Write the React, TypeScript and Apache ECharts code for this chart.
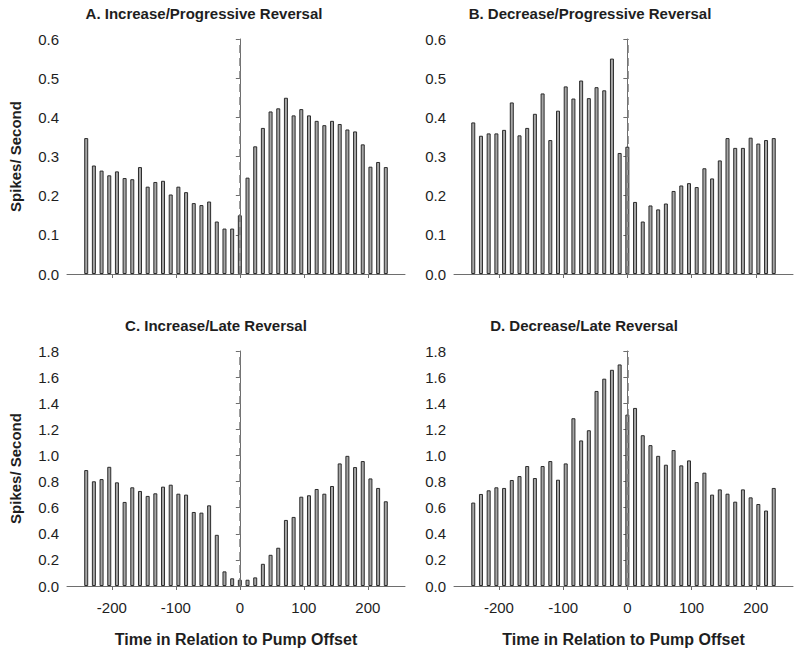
import React, { useEffect, useRef } from "react";
import * as echarts from "echarts";

// Bin centres (time relative to pump offset)
const times = [
  -240, -228, -216, -204, -192, -180, -168, -156, -144, -132, -120, -108, -96, -84, -72, -60, -48, -36, -24, -12,
  0, 12, 24, 36, 48, 60, 72, 84, 96, 108, 120, 132, 144, 156, 168, 180, 192, 204, 216, 228,
];

const panelA = [
  0.347, 0.277, 0.264, 0.252, 0.262, 0.245, 0.242, 0.273, 0.223, 0.235, 0.238, 0.203, 0.223, 0.209, 0.181, 0.176,
  0.185, 0.134, 0.116, 0.116, 0.15, 0.246, 0.326, 0.373, 0.415, 0.423, 0.45, 0.405, 0.421, 0.405, 0.391, 0.38,
  0.391, 0.383, 0.369, 0.364, 0.331, 0.274, 0.286, 0.273,
];
const panelB = [
  0.387, 0.353, 0.359, 0.359, 0.368, 0.438, 0.354, 0.373, 0.409, 0.461, 0.342, 0.417, 0.479, 0.448, 0.494, 0.449,
  0.477, 0.469, 0.55, 0.309, 0.325, 0.184, 0.134, 0.175, 0.165, 0.18, 0.212, 0.226, 0.232, 0.222, 0.27, 0.244,
  0.29, 0.347, 0.322, 0.322, 0.348, 0.333, 0.342, 0.347,
];
const panelC = [
  0.888, 0.802, 0.819, 0.913, 0.794, 0.644, 0.756, 0.728, 0.69, 0.71, 0.761, 0.776, 0.707, 0.7, 0.567, 0.562,
  0.618, 0.392, 0.112, 0.059, 0.048, 0.048, 0.066, 0.17, 0.239, 0.293, 0.506, 0.529, 0.684, 0.695, 0.743, 0.707,
  0.766, 0.939, 0.997, 0.911, 0.957, 0.824, 0.751, 0.649,
];
const panelD = [
  0.639, 0.705, 0.733, 0.756, 0.751, 0.812, 0.842, 0.919, 0.827, 0.919, 0.957, 0.814, 0.939, 1.285, 1.115, 1.193,
  1.494, 1.588, 1.656, 1.697, 1.313, 1.364, 1.155, 1.079, 0.997, 0.929, 1.041, 0.924, 0.962, 0.796, 0.868, 0.7,
  0.74, 0.707, 0.646, 0.74, 0.679, 0.628, 0.578, 0.751,
];

const titles = [
  "A. Increase/Progressive Reversal",
  "B. Decrease/Progressive Reversal",
  "C. Increase/Late Reversal",
  "D. Decrease/Late Reversal",
];
const xTickValues = [-200, -100, 0, 100, 200];
const yLabel = "Spikes/ Second";
const xLabel = "Time in Relation to Pump Offset";

const FONT = "'Liberation Sans', Arial, sans-serif";
const AXIS_COLOR = "#6e6e6e";
const TEXT_COLOR = "#1e1e1e";

export default function App() {
  const ref = useRef<HTMLDivElement>(null);

  useEffect(() => {
    document.body.style.margin = "0";
    if (!ref.current) return;
    const chart = echarts.init(ref.current, null, { renderer: "svg" });

    const grids = [
      { left: 67, top: 39, width: 338, height: 235 },
      { left: 454, top: 39, width: 339, height: 235 },
      { left: 67, top: 351, width: 338, height: 235 },
      { left: 454, top: 351, width: 339, height: 235 },
    ];
    const datasets = [panelA, panelB, panelC, panelD];
    const yMax = [0.6, 0.6, 1.8, 1.8];
    const yInt = [0.1, 0.1, 0.2, 0.2];

    const xAxes = grids.map((_, i) => ({
      type: "value",
      gridIndex: i,
      min: -270,
      max: 258,
      splitLine: { show: false },
      axisLine: { show: true, lineStyle: { color: AXIS_COLOR, width: 1 } },
      axisTick: { show: true, length: 4, lineStyle: { color: AXIS_COLOR }, customValues: xTickValues },
      axisLabel: {
        show: i >= 2,
        customValues: xTickValues,
        color: TEXT_COLOR,
        fontFamily: FONT,
        fontSize: 15,
        margin: 14,
      },
      name: i >= 2 ? xLabel : "",
      nameLocation: "middle",
      nameGap: 45,
      nameTextStyle: { fontFamily: FONT, fontWeight: "bold", fontSize: 16, color: TEXT_COLOR },
    }));

    const yAxes = grids.map((_, i) => ({
      type: "value",
      gridIndex: i,
      min: 0,
      max: yMax[i],
      interval: yInt[i],
      splitLine: { show: false },
      axisLine: { show: true, lineStyle: { color: AXIS_COLOR, width: 1 } },
      axisTick: { show: true, length: 4, lineStyle: { color: AXIS_COLOR } },
      axisLabel: {
        color: TEXT_COLOR,
        fontFamily: FONT,
        fontSize: 15,
        margin: 8,
        formatter: (v: number) => v.toFixed(1),
      },
      name: i % 2 === 0 ? yLabel : "",
      nameLocation: "middle",
      nameGap: 44,
      nameTextStyle: { fontFamily: FONT, fontWeight: "bold", fontSize: 15, color: TEXT_COLOR },
    }));

    const series = datasets.map((vals, i) => ({
      type: "bar",
      xAxisIndex: i,
      yAxisIndex: i,
      barWidth: 4,
      data: vals.map((v, j) => [times[j], v]),
      itemStyle: { color: "#a6a6a6", borderColor: "#2b2b2b", borderWidth: 1 },
      silent: true,
      markLine: {
        silent: true,
        symbol: ["none", "none"],
        label: { show: false },
        z: 10,
        lineStyle: { color: "#7a7a7a", type: [8, 5], width: 1.5 },
        data: [{ xAxis: 0 }],
      },
    }));

    const titleCenters = [
      { left: 204, top: 6 },
      { left: 590, top: 6 },
      { left: 216, top: 318 },
      { left: 584, top: 318 },
    ];
    const title = titles.map((t, i) => ({
      text: t,
      left: titleCenters[i].left,
      top: titleCenters[i].top,
      textAlign: "center",
      padding: 0,
      textStyle: { fontFamily: FONT, fontWeight: "bold", fontSize: 15, color: TEXT_COLOR },
    }));

    chart.setOption({
      animation: false,
      backgroundColor: "#ffffff",
      title,
      grid: grids,
      xAxis: xAxes,
      yAxis: yAxes,
      series,
    } as any);

    return () => chart.dispose();
  }, []);

  return <div ref={ref} style={{ width: 800, height: 656 }} />;
}
